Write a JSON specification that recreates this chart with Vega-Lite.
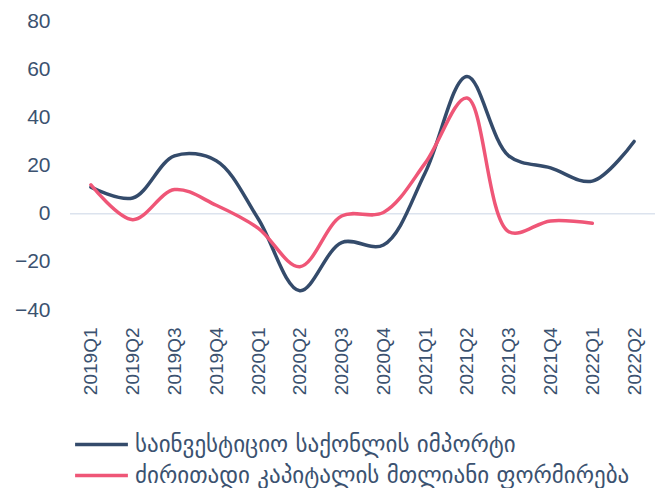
{
  "$schema": "https://vega.github.io/schema/vega-lite/v6.json",
  "width": 585,
  "height": 289,
  "autosize": {"type": "none"},
  "padding": {"left": 70, "top": 21, "right": 6, "bottom": 178},
  "background": "white",
  "config": {"view": {"stroke": null}},
  "data": {"values": [
    {"q": "2019Q1", "s": "საინვესტიციო საქონლის იმპორტი", "v": 11},
    {"q": "2019Q2", "s": "საინვესტიციო საქონლის იმპორტი", "v": 6.5},
    {"q": "2019Q3", "s": "საინვესტიციო საქონლის იმპორტი", "v": 24},
    {"q": "2019Q4", "s": "საინვესტიციო საქონლის იმპორტი", "v": 22},
    {"q": "2020Q1", "s": "საინვესტიციო საქონლის იმპორტი", "v": -2},
    {"q": "2020Q2", "s": "საინვესტიციო საქონლის იმპორტი", "v": -32},
    {"q": "2020Q3", "s": "საინვესტიციო საქონლის იმპორტი", "v": -12},
    {"q": "2020Q4", "s": "საინვესტიციო საქონლის იმპორტი", "v": -13},
    {"q": "2021Q1", "s": "საინვესტიციო საქონლის იმპორტი", "v": 17},
    {"q": "2021Q2", "s": "საინვესტიციო საქონლის იმპორტი", "v": 57},
    {"q": "2021Q3", "s": "საინვესტიციო საქონლის იმპორტი", "v": 24},
    {"q": "2021Q4", "s": "საინვესტიციო საქონლის იმპორტი", "v": 19},
    {"q": "2022Q1", "s": "საინვესტიციო საქონლის იმპორტი", "v": 13.5},
    {"q": "2022Q2", "s": "საინვესტიციო საქონლის იმპორტი", "v": 30},
    {"q": "2019Q1", "s": "ძირითადი კაპიტალის მთლიანი ფორმირება", "v": 12},
    {"q": "2019Q2", "s": "ძირითადი კაპიტალის მთლიანი ფორმირება", "v": -2.5},
    {"q": "2019Q3", "s": "ძირითადი კაპიტალის მთლიანი ფორმირება", "v": 10},
    {"q": "2019Q4", "s": "ძირითადი კაპიტალის მთლიანი ფორმირება", "v": 3.5},
    {"q": "2020Q1", "s": "ძირითადი კაპიტალის მთლიანი ფორმირება", "v": -6},
    {"q": "2020Q2", "s": "ძირითადი კაპიტალის მთლიანი ფორმირება", "v": -22},
    {"q": "2020Q3", "s": "ძირითადი კაპიტალის მთლიანი ფორმირება", "v": -1},
    {"q": "2020Q4", "s": "ძირითადი კაპიტალის მთლიანი ფორმირება", "v": 0.5},
    {"q": "2021Q1", "s": "ძირითადი კაპიტალის მთლიანი ფორმირება", "v": 21},
    {"q": "2021Q2", "s": "ძირითადი კაპიტალის მთლიანი ფორმირება", "v": 48},
    {"q": "2021Q3", "s": "ძირითადი კაპიტალის მთლიანი ფორმირება", "v": -7.5},
    {"q": "2021Q4", "s": "ძირითადი კაპიტალის მთლიანი ფორმირება", "v": -3},
    {"q": "2022Q1", "s": "ძირითადი კაპიტალის მთლიანი ფორმირება", "v": -4}
  ]},
  "layer": [
    {
      "mark": {"type": "rule", "color": "#DCE3EE", "strokeWidth": 1.5},
      "data": {"values": [{"z": 0}]},
      "encoding": {"y": {"field": "z", "type": "quantitative"}}
    },
    {
      "mark": {"type": "line", "interpolate": "catmull-rom", "strokeWidth": 3.5, "strokeCap": "round"},
      "encoding": {
        "x": {"field": "q", "type": "ordinal", "scale": {"type": "point", "padding": 0.5},
          "axis": {"title": null, "domain": false, "ticks": false, "labelAngle": -90, "labelAlign": "right", "labelBaseline": "middle",
            "labelPadding": 17, "labelFont": "Liberation Sans", "labelFontSize": 19, "labelColor": "#3B5270"}},
        "y": {"field": "v", "type": "quantitative", "scale": {"domain": [-40, 80], "nice": false},
          "axis": {"title": null, "domain": false, "ticks": false, "grid": false, "values": [-40, -20, 0, 20, 40, 60, 80],
            "labelPadding": 20, "labelFont": "Liberation Sans", "labelFontSize": 21, "labelColor": "#3B5270"}},
        "color": {"field": "s", "type": "nominal",
          "scale": {"domain": ["საინვესტიციო საქონლის იმპორტი", "ძირითადი კაპიტალის მთლიანი ფორმირება"], "range": ["#344B6B", "#EF5677"]},
          "legend": {"title": null, "orient": "none", "legendX": 13, "legendY": 405, "direction": "vertical",
            "symbolType": "M-1.6,0H1.6", "symbolSize": 1089, "symbolStrokeWidth": 3.5, "rowPadding": 0,
            "labelFont": "DejaVu Sans", "labelFontSize": 23, "labelColor": "#3B5270", "labelLimit": 620, "labelOffset": 15}}
      }
    }
  ]
}
